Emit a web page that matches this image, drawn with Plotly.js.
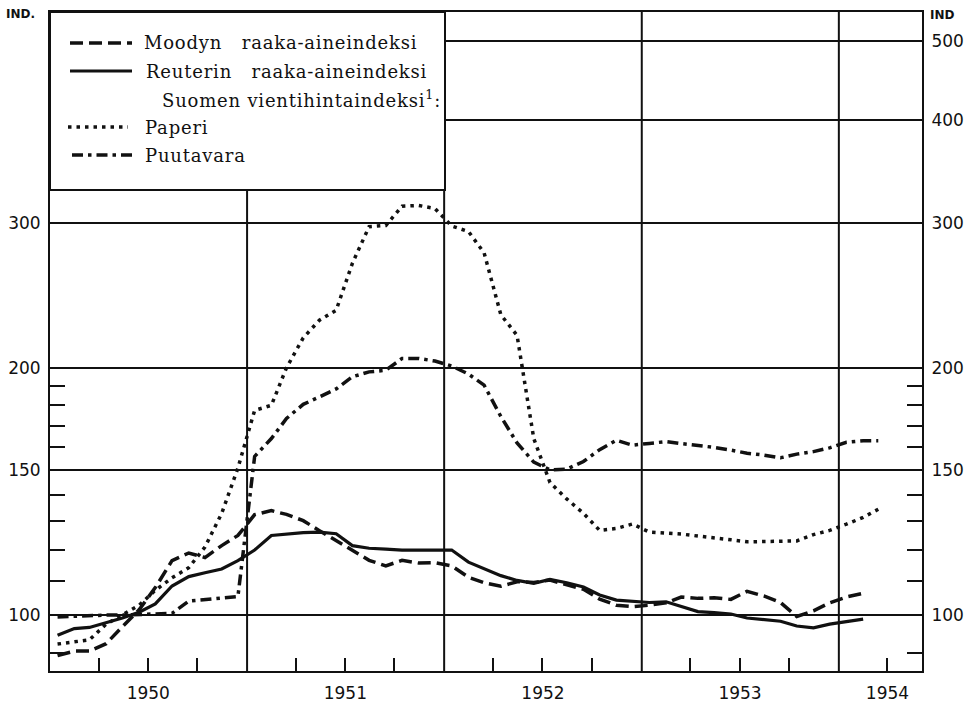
<!DOCTYPE html>
<html><head><meta charset="utf-8">
<script src="https://cdn.plot.ly/plotly-3.0.1.min.js"></script>
<style>html,body{margin:0;padding:0;background:#fff;} #chart{width:965px;height:702px;}
text[style*="Serif"]{letter-spacing:0.8px;}</style>
</head><body><div id="chart"></div>
<script>
// Monthly observations (mid-month), Jan 1950 – Mar 1954
const months = [
 '1950-01-15','1950-02-15','1950-03-15','1950-04-15','1950-05-15','1950-06-15','1950-07-15','1950-08-15','1950-09-15','1950-10-15','1950-11-15','1950-12-15',
 '1951-01-15','1951-02-15','1951-03-15','1951-04-15','1951-05-15','1951-06-15','1951-07-15','1951-08-15','1951-09-15','1951-10-15','1951-11-15','1951-12-15',
 '1952-01-15','1952-02-15','1952-03-15','1952-04-15','1952-05-15','1952-06-15','1952-07-15','1952-08-15','1952-09-15','1952-10-15','1952-11-15','1952-12-15',
 '1953-01-15','1953-02-15','1953-03-15','1953-04-15','1953-05-15','1953-06-15','1953-07-15','1953-08-15','1953-09-15','1953-10-15','1953-11-15','1953-12-15',
 '1954-01-15','1954-02-15','1954-03-15'
];
const moody = [
 89.3, 90.4, 90.4, 92.3, 96.8, 101.5, 108, 116.5, 119, 117.5, 121.5, 125,
 132.5, 134, 132.6, 130.3, 126.7, 123.2, 119.8, 116.6, 114.8, 116.6, 115.7, 115.8,
 114.8, 111.2, 109.5, 108.4, 109.8, 109.6, 110.3, 109, 107.5, 104.6, 102.8, 102.4,
 102.8, 103.5, 105.2, 104.8, 105, 104.5, 106.9, 105.5, 103.6, 99.6, 101.2, 103.5,
 105.2, 106.3
];
const reuter = [
 94.5, 96.3, 96.6, 97.8, 99.2, 100.8, 103.2, 108.5, 111.4, 112.6, 113.8, 116.5,
 120, 125, 125.5, 126, 126.2, 125.6, 121.5, 120.6, 120.3, 120, 120, 120,
 120, 116, 114, 111.7, 110.2, 109.3, 110.5, 109.5, 108.2, 105.8, 104.3, 104,
 103.6, 103.8, 102.5, 101, 100.7, 100.3, 99.2, 98.8, 98.3, 97, 96.5, 97.5,
 98.2, 98.9
];
const paperi = [
 92.2, 92.7, 93.3, 97.5, 100.2, 102.8, 107.2, 111, 114.2, 121, 133, 151,
 177.5, 180, 200, 217.5, 228.5, 235, 268, 297, 298, 314.5, 315.2, 312.5,
 297.5, 293, 276, 232, 219, 164, 145, 138.5, 133, 126.8, 127.5, 129.1,
 126.2, 125.9, 125.5, 124.8, 124.3, 123.5, 122.8, 122.9, 123.3, 123.1, 125.3, 126.8,
 129, 131.5, 134.5
];
const puutavara = [
 99.5, 99.7, 99.8, 100, 100, 100.2, 100.2, 100.5, 104, 104.5, 104.8, 105.3,
 156, 164, 173.5, 180.5, 184.3, 188.5, 195, 197.7, 198.6, 205.3, 205.3, 203.8,
 201, 196.5, 190.5, 174.5, 162, 153.5, 150.2, 150.5, 153.8, 159, 163.2, 161,
 161.8, 162.6, 161.7, 160.9, 160, 158.8, 157.4, 156.6, 155.4, 157, 158.1, 159.8,
 162.3, 163, 163
];
const seriesNames = ['Moodyn   raaka-aineindeksi', 'Reuterin   raaka-aineindeksi', 'Paperi', 'Puutavara'];
const groupTitle = 'Suomen vientihintaindeksi<sup>1</sup>:';
const yearLabels = ['1950','1951','1952','1953','1954'];
const yearLabelPos = ['1950-07-02','1951-07-02','1952-07-02','1953-07-02','1954-04-01'];
const yearLines = ['1951-01-01','1952-01-01','1953-01-01','1954-01-01'];
const quarterTicks = [
 '1950-04-01','1950-07-01','1950-10-01','1951-04-01','1951-07-01','1951-10-01',
 '1952-04-01','1952-07-01','1952-10-01','1953-04-01','1953-07-01','1953-10-01','1954-04-01'
];
const leftTicks = [100, 150, 200, 300];
const rightTicks = [100, 150, 200, 300, 400, 500];
const minorY = [90, 110, 120, 130, 140, 160, 170, 180, 190];

const INK = '#111';
const styles = [
 {dash: '13px,6px', width: 3.5},
 {dash: 'solid', width: 3.2},
 {dash: '3.5px,5px', width: 3.5},
 {dash: '11px,5px,3.5px,5px', width: 3.5}
];
const series = [moody, reuter, paperi, puutavara];
const traces = series.map((vals, i) => ({
  type: 'scatter', mode: 'lines',
  x: months.slice(0, vals.length), y: vals,
  name: seriesNames[i],
  yaxis: i >= 2 ? 'y2' : 'y',
  line: {color: INK, width: styles[i].width, dash: styles[i].dash},
  hoverinfo: 'skip'
}));

// pixel helpers for decorations (plot area 50..922 x 12..671)
const L = 50, R = 922, T = 12, B = 671;
const px = v => (v - L) / (R - L);
const py = v => (B - v) / (B - T);

const shapes = [];
yearLines.forEach(d => shapes.push({type:'line', xref:'x', yref:'paper', x0:d, x1:d, y0:0, y1:1,
  line:{color:INK, width:2}, layer:'between'}));
// legend box
shapes.push({type:'rect', xref:'paper', yref:'paper', x0:0, x1:px(445), y0:py(190), y1:1,
  fillcolor:'#fff', line:{color:INK, width:2}, layer:'above'});
const legendRows = [
 {s:0, y:43, x0:70, x1:132, tx:142},
 {s:1, y:71, x0:70, x1:132, tx:144},
 {s:2, y:127, x0:68, x1:128, tx:143},
 {s:3, y:155, x0:72, x1:132, tx:143}
];
const annotations = [];
const legFont = {family:'DejaVu Serif', size:18, color:INK};
legendRows.forEach(r => {
  shapes.push({type:'line', xref:'paper', yref:'paper', x0:px(r.x0), x1:px(r.x1), y0:py(r.y), y1:py(r.y),
    line:{color:INK, width:styles[r.s].width, dash:styles[r.s].dash}, layer:'above'});
  annotations.push({xref:'paper', yref:'paper', x:px(r.tx), y:py(r.y), xanchor:'left', yanchor:'middle',
    text:seriesNames[r.s], showarrow:false, font:legFont});
});
annotations.push({xref:'paper', yref:'paper', x:px(160), y:py(99), xanchor:'left', yanchor:'middle',
  text:groupTitle, showarrow:false, font:legFont});
annotations.push({xref:'paper', yref:'paper', x:px(4), y:py(14), xanchor:'left', yanchor:'middle',
  text:'<b>IND.</b>', showarrow:false, font:{family:'DejaVu Sans', size:12, color:INK}});
annotations.push({xref:'paper', yref:'paper', x:px(928), y:py(15), xanchor:'left', yanchor:'middle',
  text:'<b>IND</b>', showarrow:false, font:{family:'DejaVu Sans', size:12, color:INK}});

const yFont = {family:'DejaVu Sans', size:17, color:INK};
const xFont = {family:'DejaVu Sans', size:17, color:INK};
const yRange = [Math.log10(85.5), Math.log10(542)];
const minorCfg = {tickmode:'array', tickvals:minorY, ticks:'inside', ticklen:15, tickwidth:2, tickcolor:INK, showgrid:false};

const layout = {
  width: 965, height: 702,
  margin: {l: L, r: 965 - R, t: T, b: 702 - B, pad: 0},
  paper_bgcolor: '#fff', plot_bgcolor: '#fff',
  showlegend: false,
  xaxis: {
    type: 'date', range: ['1950-01-01', '1954-06-04'],
    tickmode: 'array', tickvals: yearLabelPos, ticktext: yearLabels,
    ticks: '', showgrid: false, zeroline: false,
    showline: true, linecolor: INK, linewidth: 2, mirror: true,
    tickfont: xFont, ticklabelstandoff: 6,
    minor: {tickmode:'array', tickvals: quarterTicks, ticks:'inside', ticklen:13, tickwidth:2, tickcolor:INK, showgrid:false}
  },
  yaxis: {
    type: 'log', range: yRange, side: 'left',
    tickmode: 'array', tickvals: leftTicks, ticktext: leftTicks.map(String),
    ticks: '', showgrid: true, gridcolor: INK, gridwidth: 2, zeroline: false,
    showline: true, linecolor: INK, linewidth: 2,
    tickfont: yFont, ticklabelstandoff: 4,
    minor: minorCfg
  },
  yaxis2: {
    type: 'log', range: yRange, side: 'right', overlaying: 'y', matches: 'y',
    tickmode: 'array', tickvals: rightTicks, ticktext: rightTicks.map(String),
    ticks: '', showgrid: true, gridcolor: INK, gridwidth: 2, zeroline: false,
    showline: true, linecolor: INK, linewidth: 2,
    tickfont: yFont, ticklabelstandoff: 4,
    minor: minorCfg
  },
  shapes: shapes,
  annotations: annotations
};

Plotly.newPlot('chart', traces, layout, {staticPlot: true, displayModeBar: false});
</script>
</body></html>
